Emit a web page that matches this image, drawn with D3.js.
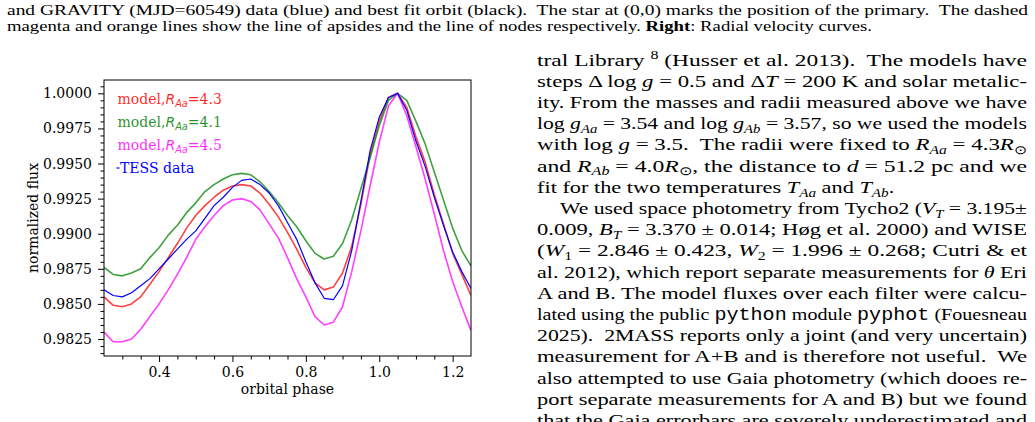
<!DOCTYPE html>
<html>
<head>
<meta charset="utf-8">
<script src="https://cdn.jsdelivr.net/npm/d3@7"></script>
<style>
  body { margin: 0; background: #fff; }
  svg { display: block; }
</style>
</head>
<body>
<div id="page"></div>
<script>
// orbital phase grid shared by the models and the TESS curve
var phase = [0.25, 0.275, 0.30, 0.325, 0.35, 0.375, 0.40, 0.425, 0.45, 0.475,
             0.50, 0.525, 0.55, 0.575, 0.60, 0.625, 0.65, 0.675, 0.70, 0.725,
             0.75, 0.775, 0.80, 0.825, 0.85, 0.875, 0.90, 0.925, 0.95, 0.975,
             1.00, 1.025, 1.05, 1.075, 1.10, 1.125, 1.15, 1.175, 1.20, 1.225, 1.25];

// model, R_Aa = 4.3 (red)
var fluxR43 = [0.9855, 0.9849, 0.9848, 0.9850, 0.9855, 0.9864, 0.9873, 0.9883, 0.9893, 0.9904,
               0.9913, 0.9920, 0.9926, 0.9931, 0.9934, 0.9935, 0.9934, 0.9929, 0.9921, 0.9912,
               0.9901, 0.9889, 0.9876, 0.9865, 0.9860, 0.9862, 0.9872, 0.9891, 0.9921, 0.9956,
               0.9980, 0.9997, 1.0000, 0.9990, 0.9969, 0.9951, 0.9928, 0.9907, 0.9886, 0.9871, 0.9856];

// model, R_Aa = 4.1 (green)
var fluxR41 = [0.9876, 0.9871, 0.9870, 0.9872, 0.9875, 0.9883, 0.9890, 0.9899, 0.9906, 0.9915,
               0.9922, 0.9930, 0.9935, 0.9939, 0.9942, 0.9943, 0.9942, 0.9937, 0.9930, 0.9922,
               0.9913, 0.9905, 0.9895, 0.9886, 0.9882, 0.9884, 0.9893, 0.9910, 0.9932, 0.9954,
               0.9977, 0.9995, 1.0000, 0.9995, 0.9980, 0.9964, 0.9944, 0.9924, 0.9904, 0.9888, 0.9877];

// model, R_Aa = 4.5 (magenta)
var fluxR45 = [0.9830, 0.9823, 0.9823, 0.9825, 0.9832, 0.9841, 0.9850, 0.9860, 0.9871, 0.9883,
               0.9896, 0.9905, 0.9913, 0.9920, 0.9924, 0.9925, 0.9923, 0.9917, 0.9907, 0.9897,
               0.9883, 0.9868, 0.9855, 0.9841, 0.9835, 0.9837, 0.9848, 0.9873, 0.9902, 0.9934,
               0.9965, 0.9991, 1.0000, 0.9984, 0.9962, 0.9939, 0.9914, 0.9888, 0.9866, 0.9848, 0.9831];

// TESS data (blue)
var fluxTess = [0.9860, 0.9856, 0.9855, 0.9858, 0.9863, 0.9868, 0.9875, 0.9882, 0.9889, 0.9896,
                0.9902, 0.9911, 0.9920, 0.9926, 0.9933, 0.9938, 0.9939, 0.9935, 0.9929, 0.9920,
                0.9908, 0.9896, 0.9880, 0.9865, 0.9854, 0.9853, 0.9863, 0.9888, 0.9923, 0.9959,
                0.9983, 0.9997, 1.0000, 0.9988, 0.9966, 0.9948, 0.9926, 0.9906, 0.9887, 0.9873, 0.9861];

var xTicks = [0.4, 0.6, 0.8, 1.0, 1.2];
var yTicks = [0.9825, 0.9850, 0.9875, 0.9900, 0.9925, 0.9950, 0.9975, 1.0000];
var radii = ["4.3", "4.1", "4.5"];

var W = 1035, H = 422;
var svg = d3.select("#page").append("svg").attr("width", W).attr("height", H);
svg.append("rect").attr("width", W).attr("height", H).attr("fill", "#fff");

// ---------- chart ----------
var plot = {left: 104, top: 80, right: 471, bottom: 356};
var x = d3.scaleLinear().domain([0.25, 1.25]).range([plot.left, plot.right]);
var y = d3.scaleLinear().domain([0.98129, 1.00095]).range([plot.bottom, plot.top]);

var serif = "DejaVu Serif";

svg.append("clipPath").attr("id", "clip")
  .append("rect")
  .attr("x", plot.left).attr("y", plot.top)
  .attr("width", plot.right - plot.left).attr("height", plot.bottom - plot.top);

var xMinor = d3.range(6, 25).filter(function (i) { return i % 4 !== 0; })
  .map(function (i) { return i * 0.05; });
var yMinor = d3.range(1963, 2002).filter(function (i) { return i % 5 !== 0; })
  .map(function (i) { return i * 0.0005; });

function styleAxis(g) {
  g.select(".domain").remove();
  g.selectAll("line").attr("stroke", "#000").attr("stroke-width", 1);
  g.selectAll("text").attr("font-family", serif).attr("font-size", 14).attr("fill", "#000");
}

svg.append("g")
  .attr("transform", "translate(0," + plot.bottom + ")")
  .call(d3.axisBottom(x).tickValues(xMinor).tickSize(3.5).tickFormat(""))
  .call(styleAxis);
svg.append("g")
  .attr("transform", "translate(0," + plot.bottom + ")")
  .call(d3.axisBottom(x).tickValues(xTicks).tickSize(6).tickPadding(5).tickFormat(d3.format(".1f")))
  .call(styleAxis);
svg.append("g")
  .attr("transform", "translate(" + plot.left + ",0)")
  .call(d3.axisLeft(y).tickValues(yMinor).tickSize(3.5).tickFormat(""))
  .call(styleAxis);
svg.append("g")
  .attr("transform", "translate(" + plot.left + ",0)")
  .call(d3.axisLeft(y).tickValues(yTicks).tickSize(6).tickPadding(6).tickFormat(d3.format(".4f")))
  .call(styleAxis);

var line = d3.line()
  .x(function (d, i) { return x(phase[i]); })
  .y(function (d) { return y(d); });

var series = [
  {values: fluxR43, color: "#ff0000", width: 1.6, opacity: 0.75},
  {values: fluxR41, color: "#008000", width: 1.6, opacity: 0.75},
  {values: fluxR45, color: "#ff00ff", width: 1.6, opacity: 0.75},
  {values: fluxTess, color: "#0000ff", width: 1.2, opacity: 1}
];

var lines = svg.append("g").attr("clip-path", "url(#clip)");
series.forEach(function (s) {
  lines.append("path")
    .attr("d", line(s.values))
    .attr("fill", "none")
    .attr("stroke", s.color)
    .attr("stroke-width", s.width)
    .attr("stroke-opacity", s.opacity)
    .attr("stroke-linejoin", "round");
});

svg.append("rect")
  .attr("x", plot.left).attr("y", plot.top)
  .attr("width", plot.right - plot.left).attr("height", plot.bottom - plot.top)
  .attr("fill", "none").attr("stroke", "#000").attr("stroke-width", 1);

// legend
var legendY = [104, 127, 150, 172.5];
radii.forEach(function (r, i) {
  var t = svg.append("text")
    .attr("x", 117.5).attr("y", legendY[i])
    .attr("font-family", serif).attr("font-size", 14)
    .attr("fill", series[i].color).attr("fill-opacity", 0.85);
  t.append("tspan").text("model,");
  t.append("tspan").text("R").attr("font-family", "DejaVu Sans").attr("font-style", "italic");
  t.append("tspan").text("Aa").attr("font-family", "DejaVu Sans").attr("font-style", "italic")
    .attr("font-size", 9.8).attr("dy", 3);
  t.append("tspan").text("=" + r).attr("dy", -3);
});
svg.append("line")
  .attr("x1", 116.5).attr("x2", 119.5)
  .attr("y1", legendY[3] - 4.5).attr("y2", legendY[3] - 4.5)
  .attr("stroke", "#0000ff").attr("stroke-width", 1.2);
svg.append("text")
  .attr("x", 120).attr("y", legendY[3])
  .attr("font-family", serif).attr("font-size", 14).attr("fill", "#0000ff")
  .text("TESS data");

svg.append("text")
  .attr("x", (plot.left + plot.right) / 2).attr("y", 394)
  .attr("text-anchor", "middle")
  .attr("font-family", serif).attr("font-size", 14)
  .text("orbital phase");
svg.append("text")
  .attr("transform", "translate(38," + (plot.top + plot.bottom) / 2 + ") rotate(-90)")
  .attr("text-anchor", "middle")
  .attr("font-family", serif).attr("font-size", 14)
  .text("normalized flux");

// ---------- surrounding page text ----------
function drawRich(x0, yb, segs, size) {
  var t = svg.append("text")
    .attr("x", x0).attr("y", yb)
    .attr("font-family", "Liberation Serif").attr("font-size", size)
    .attr("fill", "#000").style("white-space", "pre");
  var shift = 0;
  segs.forEach(function (s) {
    var st = s[1] || "";
    var sh = st.indexOf("_") >= 0 ? size * 0.22 : (st.indexOf("^") >= 0 ? -size * 0.36 : 0);
    var ts = t.append("tspan").text(s[0]).attr("dy", sh - shift);
    shift = sh;
    if (st.indexOf("i") >= 0) ts.attr("font-style", "italic");
    if (st.indexOf("b") >= 0) ts.attr("font-weight", "bold");
    if (st.indexOf("t") >= 0) ts.attr("font-family", "Liberation Mono");
    if (sh !== 0) ts.attr("font-size", size * 0.68);
  });
  return t;
}

// each row is justified to its right edge unless it gives its own end
function drawBlock(rows, size, right) {
  var ratios = [], pending = [];
  rows.forEach(function (r) {
    var t = drawRich(r.x, r.y, r.segs, size);
    var nat = t.node().getComputedTextLength();
    if (r.end) {
      t.attr("textLength", r.end - r.x).attr("lengthAdjust", "spacingAndGlyphs");
      return;
    }
    if (r.last) { pending.push({t: t, nat: nat}); return; }
    ratios.push((right - r.x) / nat);
    t.attr("textLength", right - r.x).attr("lengthAdjust", "spacingAndGlyphs");
  });
  var k = d3.mean(ratios);
  pending.forEach(function (p) {
    p.t.attr("textLength", p.nat * k).attr("lengthAdjust", "spacingAndGlyphs");
  });
}

var caption = [
  {x: 7, y: 15, segs: [["and GRAVITY (MJD=60549) data (blue) and best fit orbit (black).  The star at (0,0) marks the position of the primary.  The dashed"]]},
  {x: 7, y: 30.5, end: 872, segs: [["magenta and orange lines show the line of apsides and the line of nodes respectively. "], ["Right", "b"], [": Radial velocity curves."]]}
];
drawBlock(caption, 14, 1028);

var bodyX = 537, indentX = 560, lead = 21.2, top0 = 65.5;
var body = [
  [["tral Library "], ["8", "^"], [" (Husser et al. 2013).  The models have"]],
  [["steps \u0394 log "], ["g", "i"], [" = 0.5 and \u0394"], ["T", "i"], [" = 200 K and solar metalic-"]],
  [["ity. From the masses and radii measured above we have"]],
  [["log "], ["g", "i"], ["Aa", "i_"], [" = 3.54 and log "], ["g", "i"], ["Ab", "i_"], [" = 3.57, so we used the models"]],
  [["with log "], ["g", "i"], [" = 3.5.  The radii were fixed to "], ["R", "i"], ["Aa", "i_"], [" = 4.3"], ["R", "i"], ["\u2299", "_"]],
  [["and "], ["R", "i"], ["Ab", "i_"], [" = 4.0"], ["R", "i"], ["\u2299", "_"], [", the distance to "], ["d", "i"], [" = 51.2 pc and we"]],
  [["fit for the two temperatures "], ["T", "i"], ["Aa", "i_"], [" and "], ["T", "i"], ["Ab", "i_"], ["."]],
  [["We used space photometry from Tycho2 ("], ["V", "i"], ["T", "i_"], [" = 3.195\u00b1"]],
  [["0.009, "], ["B", "i"], ["T", "i_"], [" = 3.370 \u00b1 0.014; H\u00f8g et al. 2000) and WISE"]],
  [["("], ["W", "i"], ["1", "_"], [" = 2.846 \u00b1 0.423, "], ["W", "i"], ["2", "_"], [" = 1.996 \u00b1 0.268; Cutri & et"]],
  [["al. 2012), which report separate measurements for "], ["\u03b8", "i"], [" Eri"]],
  [["A and B. The model fluxes over each filter were calcu-"]],
  [["lated using the public "], ["python", "t"], [" module "], ["pyphot", "t"], [" (Fouesneau"]],
  [["2025).  2MASS reports only a joint (and very uncertain)"]],
  [["measurement for A+B and is therefore not useful.  We"]],
  [["also attempted to use Gaia photometry (which dooes re-"]],
  [["port separate measurements for A and B) but we found"]],
  [["that the Gaia errorbars are severely underestimated and"]]
].map(function (segs, i) {
  return {x: i === 7 ? indentX : bodyX, y: top0 + i * lead, segs: segs, last: i === 6};
});
drawBlock(body, 17.5, 1027);
</script>
</body>
</html>
